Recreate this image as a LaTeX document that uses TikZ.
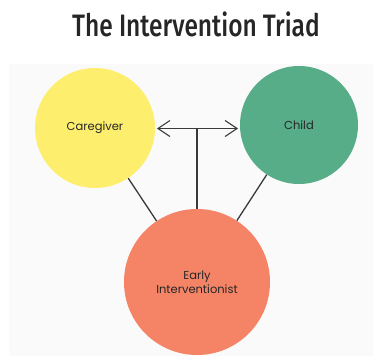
\documentclass[tikz,border=0pt]{standalone}
\usepackage{fontspec}
\usepackage{graphicx}
\setmainfont{Poppins}
\newfontfamily\titlefont{Fira Sans Medium}
\usetikzlibrary{arrows.meta}
\definecolor{cgyellow}{HTML}{FDEE6E}
\definecolor{chgreen}{HTML}{56AD87}
\definecolor{eisalmon}{HTML}{F58466}
\definecolor{linegray}{HTML}{3A3A3A}
\definecolor{bggray}{HTML}{FAFAFA}
\begin{document}
\begin{tikzpicture}[x=1pt,y=-1pt,
  role/.style={circle, inner sep=0pt, align=center, font=\fontsize{11.5}{14}\selectfont, text=black!85},
  conn/.style={draw=linegray, line width=1.3pt},
  barb/.style={draw=linegray, line width=1.3pt, -{Straight Barb[length=12pt,width=16pt,line width=1.1pt]}}
]
\useasboundingbox (0,0) rectangle (375,356);
\fill[white] (0,0) rectangle (375,356);
\fill[bggray] (9,64) rectangle (373,356);
\node[font=\titlefont\fontsize{31}{34}\selectfont, text=black!85] (title) at (196,24) {\scalebox{0.79}[1]{The Intervention Triad}};
\node[role, fill=cgyellow, minimum size=120pt] (cg) at (95,128) {Caregiver};
\node[role, fill=chgreen, minimum size=118pt] (ch) at (299,125) {Child};
\node[role, fill=eisalmon, minimum size=146pt] (ei) at (197,282) {Early\\Interventionist};
\coordinate (mid) at (197,128.5);
\coordinate (lt) at (157,128.5);
\coordinate (rt) at (238,128.5);
\draw[barb] (mid) -- (lt);
\draw[barb] (mid) -- (rt);
\draw[conn] (mid) -- (ei.north);
\draw[conn] (ei) -- (cg);
\draw[conn] (ei) -- (ch);
\end{tikzpicture}
\end{document}
